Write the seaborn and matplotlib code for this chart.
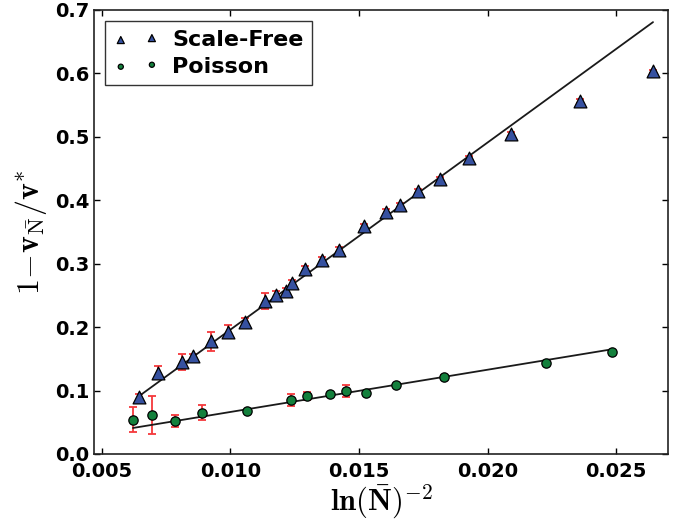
import numpy as np
import pandas as pd
import matplotlib
matplotlib.use("Agg")
import matplotlib.pyplot as plt
import seaborn as sns

# data
sf_x = [0.00643, 0.00718, 0.00811, 0.00853, 0.00923, 0.00989, 0.01055, 0.01133,
        0.01179, 0.01215, 0.01238, 0.01289, 0.01357, 0.01424, 0.01519, 0.01605,
        0.01660, 0.01730, 0.01815, 0.01928, 0.02092, 0.02360, 0.02643]
sf_y = [0.090, 0.128, 0.145, 0.154, 0.178, 0.193, 0.208, 0.241,
        0.250, 0.257, 0.270, 0.292, 0.305, 0.322, 0.359, 0.382,
        0.392, 0.415, 0.433, 0.466, 0.504, 0.556, 0.603]
sf_err = [0.005, 0.010, 0.012, 0.004, 0.015, 0.011, 0.007, 0.012,
          0.007, 0.004, 0.004, 0.005, 0.006, 0.004, 0.004, 0.004,
          0.003, 0.003, 0.003, 0.003, 0.003, 0.003, 0.003]

po_x = [0.00621, 0.00695, 0.00784, 0.00890, 0.01064, 0.01235, 0.01297, 0.01386,
        0.01448, 0.01528, 0.01644, 0.01830, 0.02228, 0.02485]
po_y = [0.054, 0.061, 0.052, 0.065, 0.067, 0.085, 0.091, 0.094,
        0.099, 0.096, 0.109, 0.122, 0.143, 0.161]
po_err = [0.020, 0.030, 0.010, 0.012, 0.003, 0.010, 0.006, 0.002,
          0.010, 0.003, 0.002, 0.002, 0.002, 0.002]

# linear fits (slope, intercept)
sf_fit = (29.5, -0.099)
po_fit = (6.66, -0.0004)

sns.set_style("ticks", {'axes.edgecolor': 'black', 'text.color': 'black',
                        'xtick.color': 'black', 'ytick.color': 'black',
                        'axes.labelcolor': 'black'})
plt.rcParams['mathtext.fontset'] = 'cm'
plt.rcParams['font.family'] = ['DejaVu Sans']

fig, ax = plt.subplots(figsize=(6.82, 5.2), dpi=100)
fig.subplots_adjust(left=0.138, right=0.979, top=0.981, bottom=0.127)

df_sf = pd.DataFrame({'x': sf_x, 'y': sf_y})
df_po = pd.DataFrame({'x': po_x, 'y': po_y})

# error bars
for xs, ys, es in [(sf_x, sf_y, sf_err), (po_x, po_y, po_err)]:
    ax.errorbar(xs, ys, yerr=es, fmt='none', ecolor='#f5383c',
                elinewidth=1.3, capsize=3, capthick=1.3, zorder=2)

# fit lines across the data range
for df, (m, b) in [(df_sf, sf_fit), (df_po, po_fit)]:
    xs = np.array([df['x'].min(), df['x'].max()])
    sns.lineplot(x=xs, y=m * xs + b, color='#1a1a1a', lw=1.3, ax=ax, zorder=3)

sns.scatterplot(data=df_sf, x='x', y='y', marker='^', s=85, color='#3651a0',
                edgecolor='black', linewidth=0.9, label='Scale-Free', ax=ax, zorder=4)
sns.scatterplot(data=df_po, x='x', y='y', marker='o', s=45, color='#13803c',
                edgecolor='black', linewidth=0.9, label='Poisson', ax=ax, zorder=4)

ax.set_xlim(0.0047, 0.027)
ax.set_ylim(0, 0.7)
ax.set_xticks([0.005, 0.010, 0.015, 0.020, 0.025])
ax.set_xticklabels(['0.005', '0.010', '0.015', '0.020', '0.025'])
ax.set_yticks(np.arange(0, 0.71, 0.1))
ax.set_yticklabels([f'{v:.1f}' for v in np.arange(0, 0.71, 0.1)])
ax.tick_params(direction='in', top=True, right=True, length=4, width=1,
               labelsize=14, colors='black')
ax.tick_params(axis='x', pad=6)
for lab in ax.get_xticklabels() + ax.get_yticklabels():
    lab.set_fontweight('bold')
for sp in ax.spines.values():
    sp.set_linewidth(1.2)
    sp.set_color('#222222')

ax.set_xlabel(r'$\mathbf{ln}(\bar{\mathbf{N}})^{-2}$', fontsize=22, labelpad=1)
ax.set_ylabel(r'$1\!-\!\mathbf{v}_{\bar{\mathrm{N}}}/\mathbf{v}^{*}$', fontsize=23, labelpad=4)

leg = ax.legend(loc='upper left', scatterpoints=2, markerscale=0.55,
                prop={'weight': 'bold', 'size': 16}, frameon=True,
                fancybox=False, edgecolor='black', borderpad=0.4,
                handletextpad=0.6, labelspacing=0.3)
leg.get_frame().set_linewidth(1.0)

fig.savefig('out.png', dpi=100)
